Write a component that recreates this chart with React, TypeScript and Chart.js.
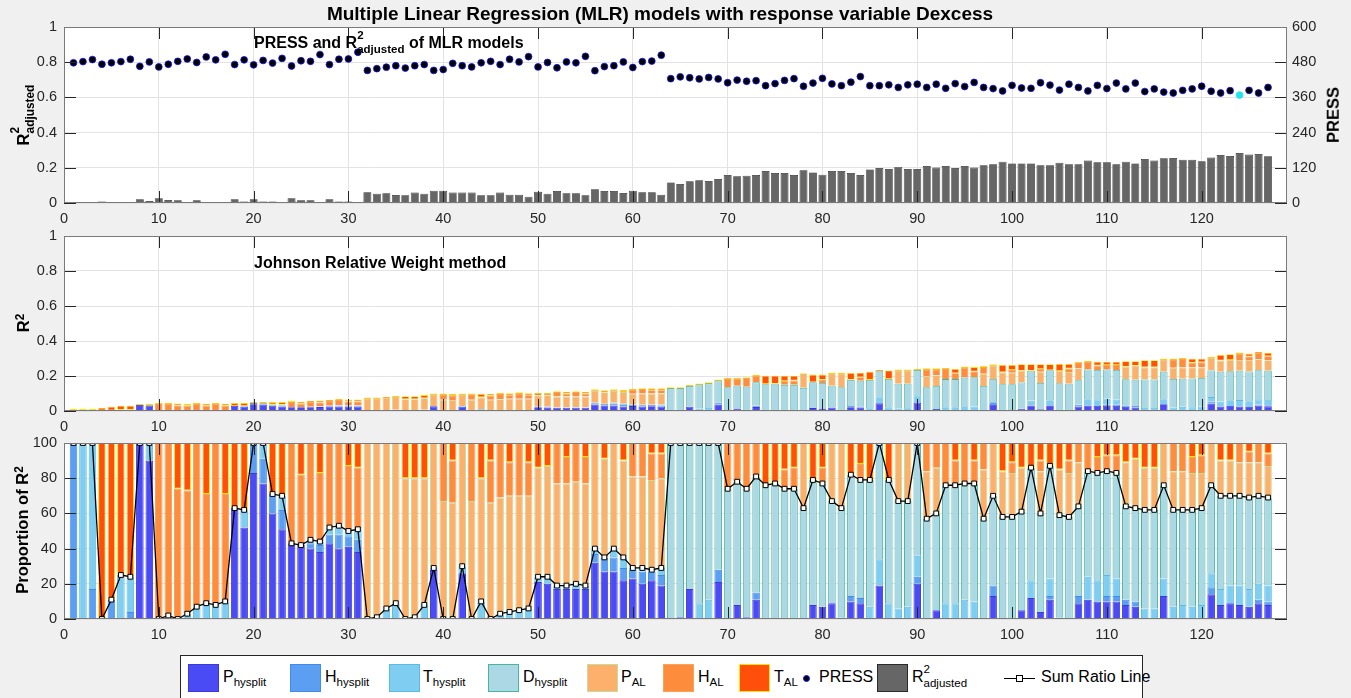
import React, { useEffect, useRef } from "react";
import { Chart, registerables } from "chart.js";
Chart.register(...registerables);

Chart.defaults.font.family = '"Liberation Sans", Arial, Helvetica, sans-serif';
Chart.defaults.color = "#262626";

// ---------------- DATA ----------------
const MODEL_IDS: number[] = Array.from({ length: 127 }, (_, i) => i + 1);
const X_TICKS = [0, 10, 20, 30, 40, 50, 60, 70, 80, 90, 100, 110, 120];
const R2_TICKS = [0, 0.2, 0.4, 0.6, 0.8, 1];
const PRESS_TICKS = [0, 120, 240, 360, 480, 600];
const PROP_TICKS = [0, 20, 40, 60, 80, 100];
const BEST_MODEL = 124;

// adjusted R² of each MLR model (top panel bars)
const R2_ADJ = [
  0, 0, 0, 0.008, 0, 0.004, 0, 0.021, 0.011, 0.027,
  0.017, 0.015, 0, 0.015, 0, 0, 0, 0.021, 0.008, 0.021,
  0.008, 0.009, 0, 0.027, 0.015, 0.015, 0, 0.021, 0.008, 0.009,
  0, 0.061, 0.053, 0.055, 0.045, 0.044, 0.059, 0.053, 0.07, 0.07,
  0.059, 0.059, 0.059, 0.044, 0.044, 0.059, 0.047, 0.047, 0.036, 0.064,
  0.053, 0.068, 0.055, 0.055, 0.044, 0.078, 0.068, 0.068, 0.057, 0.07,
  0.061, 0.061, 0.047, 0.117, 0.108, 0.123, 0.129, 0.125, 0.136, 0.159,
  0.152, 0.155, 0.159, 0.182, 0.17, 0.17, 0.159, 0.186, 0.174, 0.161,
  0.182, 0.182, 0.17, 0.159, 0.191, 0.199, 0.193, 0.205, 0.193, 0.193,
  0.21, 0.201, 0.21, 0.199, 0.21, 0.201, 0.214, 0.22, 0.235, 0.225,
  0.225, 0.225, 0.214, 0.214, 0.229, 0.22, 0.22, 0.241, 0.231, 0.231,
  0.22, 0.235, 0.225, 0.25, 0.241, 0.254, 0.256, 0.246, 0.246, 0.237,
  0.258, 0.273, 0.267, 0.284, 0.275, 0.278, 0.265,
];

// PRESS of each MLR model (top panel dots, right axis)
const PRESS = [
  478, 482, 489, 473, 478, 482, 490, 466, 481, 464,
  473, 483, 491, 479, 498, 488, 507, 472, 488, 471,
  486, 477, 493, 467, 485, 483, 506, 472, 490, 491,
  514, 452, 458, 463, 468, 460, 468, 472, 452, 455,
  476, 468, 464, 478, 483, 472, 490, 481, 499, 464,
  479, 461, 481, 478, 500, 451, 465, 468, 481, 462,
  482, 484, 504, 424, 430, 427, 423, 428, 423, 410,
  419, 415, 417, 400, 407, 418, 424, 398, 409, 425,
  406, 400, 412, 431, 400, 400, 403, 394, 403, 405,
  394, 405, 391, 407, 397, 411, 394, 390, 382, 401,
  392, 391, 410, 402, 385, 405, 394, 382, 401, 390,
  409, 389, 409, 380, 389, 378, 375, 384, 389, 398,
  381, 375, 383, 368, 384, 375, 394,
];

// total R² of each model (middle panel stack height)
const R2_TOTAL = [
  0.001, 0.004, 0.004, 0.019, 0.025, 0.03, 0.03, 0.034, 0.034, 0.04,
  0.042, 0.042, 0.042, 0.042, 0.042, 0.042, 0.042, 0.046, 0.046, 0.046,
  0.046, 0.051, 0.051, 0.051, 0.051, 0.053, 0.059, 0.059, 0.063, 0.063,
  0.063, 0.072, 0.072, 0.076, 0.08, 0.084, 0.084, 0.091, 0.095, 0.095,
  0.095, 0.095, 0.095, 0.097, 0.097, 0.097, 0.101, 0.101, 0.101, 0.103,
  0.103, 0.107, 0.107, 0.107, 0.107, 0.118, 0.118, 0.118, 0.12, 0.122,
  0.124, 0.126, 0.126, 0.13, 0.13, 0.143, 0.152, 0.158, 0.175, 0.183,
  0.185, 0.187, 0.202, 0.202, 0.202, 0.202, 0.202, 0.21, 0.208, 0.208,
  0.215, 0.215, 0.217, 0.219, 0.225, 0.23, 0.232, 0.232, 0.232, 0.234,
  0.238, 0.238, 0.24, 0.24, 0.248, 0.251, 0.251, 0.261, 0.263, 0.263,
  0.267, 0.267, 0.267, 0.267, 0.269, 0.269, 0.274, 0.282, 0.282, 0.282,
  0.282, 0.284, 0.284, 0.29, 0.29, 0.295, 0.295, 0.297, 0.299, 0.299,
  0.305, 0.32, 0.324, 0.328, 0.328, 0.333, 0.333,
];

// proportion (%) of R² per predictor (bottom panel)
const P_HYS = [
  0, 0, 0, 0, 0, 0, 0, 100, 90, 0,
  0, 0, 0, 0, 0, 0, 0, 63, 52, 83,
  77, 60, 51, 43, 42, 40, 38, 43, 40, 41,
  38, 0, 0, 0, 0, 0, 0, 0, 28, 0,
  0, 26, 0, 0, 0, 0, 0, 0, 0, 21,
  20, 17, 17, 17, 17, 32, 27, 27, 22, 23,
  20, 22, 19, 0, 1, 17, 0, 0, 21, 0,
  8, 1, 11, 0, 0, 0, 0, 0, 8, 7,
  9, 0, 10, 9, 0, 19, 0, 0, 0, 20,
  0, 5, 0, 0, 0, 0, 0, 13, 0, 0,
  5, 12, 4, 11, 0, 0, 9, 11, 10, 10,
  10, 8, 7, 0, 0, 13, 0, 0, 0, 0,
  14, 8, 9, 8, 7, 9, 8,
];
const H_HYS = [
  100, 0, 17, 0, 11, 0, 4, 0, 0, 0,
  0, 0, 0, 0, 0, 0, 0, 0, 0, 17,
  14, 11, 11, 0, 0, 3, 4, 5, 8, 6,
  7, 0, 0, 0, 0, 0, 0, 0, 0, 0,
  0, 0, 0, 0, 0, 0, 0, 0, 0, 0,
  0, 0, 0, 0, 0, 5, 8, 8, 7, 5,
  7, 5, 6, 0, 0, 0, 0, 0, 7, 0,
  0, 0, 4, 0, 0, 0, 0, 0, 0, 0,
  0, 0, 3, 3, 0, 0, 0, 0, 0, 4,
  0, 0, 0, 0, 0, 0, 0, 6, 0, 0,
  0, 0, 0, 2, 0, 0, 4, 0, 0, 3,
  3, 3, 3, 0, 0, 0, 0, 0, 0, 0,
  4, 0, 0, 0, 0, 2, 2,
];
const T_HYS = [
  0, 100, 83, 0, 0, 25, 20, 0, 10, 0,
  2, 0, 3, 7, 9, 8, 10, 0, 10, 0,
  9, 0, 8, 0, 0, 2, 2, 4, 5, 3,
  6, 0, 1, 6, 9, 0, 1, 8, 1, 0,
  0, 4, 0, 10, 0, 3, 4, 5, 6, 3,
  4, 2, 2, 3, 2, 3, 0, 5, 6, 1,
  2, 1, 4, 0, 0, 0, 9, 11, 0, 0,
  0, 0, 0, 0, 0, 0, 0, 0, 0, 0,
  0, 1, 0, 0, 7, 15, 9, 6, 7, 12,
  0, 0, 9, 9, 11, 10, 0, 0, 0, 0,
  0, 10, 0, 10, 1, 0, 0, 13, 12, 12,
  10, 0, 0, 6, 6, 10, 7, 8, 7, 8,
  8, 9, 10, 11, 10, 9, 9,
];
const D_HYS = [
  0, 0, 0, 0, 0, 0, 0, 0, 0, 0,
  0, 0, 0, 0, 0, 0, 0, 0, 0, 0,
  0, 0, 0, 0, 0, 0, 0, 0, 0, 0,
  0, 0, 0, 0, 0, 0, 0, 0, 0, 0,
  0, 0, 0, 0, 0, 0, 0, 0, 0, 0,
  0, 0, 0, 0, 0, 0, 0, 0, 0, 0,
  0, 0, 0, 100, 99, 83, 91, 89, 72, 74,
  70, 73, 66, 76, 77, 74, 74, 63, 71, 70,
  58, 62, 69, 67, 72, 66, 70, 61, 60, 64,
  57, 55, 67, 67, 66, 67, 57, 51, 58, 58,
  56, 64, 56, 64, 58, 58, 51, 60, 61, 59,
  60, 53, 53, 56, 56, 53, 55, 54, 55, 55,
  50, 53, 51, 51, 52, 50, 50,
];
const P_AL = [
  0, 0, 0, 0, 0, 0, 0, 0, 0, 0,
  0, 0, 0, 0, 0, 0, 0, 0, 0, 0,
  0, 0, 0, 0, 0, 0, 0, 0, 0, 0,
  0, 100, 99, 94, 91, 80, 79, 72, 71, 67,
  66, 70, 67, 70, 66, 66, 66, 65, 64, 62,
  63, 58, 58, 58, 58, 60, 56, 60, 55, 52,
  52, 51, 51, 0, 0, 0, 0, 0, 0, 0,
  0, 0, 0, 0, 0, 0, 0, 37, 0, 0,
  33, 37, 0, 0, 0, 0, 0, 33, 33, 0,
  27, 26, 0, 0, 0, 0, 28, 30, 26, 25,
  25, 0, 24, 0, 26, 25, 25, 0, 0, 0,
  0, 25, 28, 24, 24, 24, 22, 22, 21, 20,
  24, 20, 20, 19, 20, 19, 18,
];
const H_AL = [
  0, 0, 0, 0, 0, 0, 0, 0, 0, 100,
  98, 74, 70, 93, 62, 92, 61, 0, 0, 0,
  0, 0, 0, 57, 40, 55, 39, 48, 47, 37,
  35, 0, 0, 0, 0, 0, 0, 0, 0, 33,
  24, 0, 33, 0, 24, 31, 19, 30, 19, 0,
  0, 23, 15, 22, 15, 0, 0, 0, 0, 19,
  19, 15, 14, 0, 0, 0, 0, 0, 0, 26,
  22, 26, 19, 0, 0, 11, 12, 0, 0, 9,
  0, 0, 0, 9, 0, 0, 0, 0, 0, 0,
  16, 14, 24, 14, 23, 13, 15, 0, 0, 6,
  0, 0, 6, 0, 0, 7, 11, 16, 9, 9,
  10, 0, 0, 0, 0, 0, 16, 16, 9, 10,
  0, 0, 0, 11, 6, 11, 7,
];
const T_AL = [
  0, 0, 0, 100, 89, 75, 76, 0, 0, 0,
  0, 26, 27, 0, 29, 0, 29, 37, 38, 0,
  0, 29, 30, 0, 18, 0, 17, 0, 0, 13,
  14, 0, 0, 0, 0, 20, 20, 20, 0, 0,
  10, 0, 0, 20, 10, 0, 11, 0, 11, 14,
  13, 0, 8, 0, 8, 0, 9, 0, 10, 0,
  0, 6, 6, 0, 0, 0, 0, 0, 0, 0,
  0, 0, 0, 24, 23, 15, 14, 0, 21, 14,
  0, 0, 18, 12, 21, 0, 21, 0, 0, 0,
  0, 0, 0, 10, 0, 10, 0, 0, 16, 11,
  14, 14, 10, 13, 15, 10, 0, 0, 8, 7,
  7, 11, 9, 14, 14, 0, 0, 0, 8, 7,
  0, 10, 10, 0, 5, 0, 6,
];

const COMPONENTS = [
  { key: "Phys", data: P_HYS, fill: "#4b4bf5", edge: "#3a3ad6" },
  { key: "Hhys", data: H_HYS, fill: "#5b9ef2", edge: "#3f8de6" },
  { key: "Thys", data: T_HYS, fill: "#7fcdf0", edge: "#5bbbe3" },
  { key: "Dhys", data: D_HYS, fill: "#acd8e6", edge: "#45b89c" },
  { key: "PAL", data: P_AL, fill: "#fdb06b", edge: "#c7dc9c" },
  { key: "HAL", data: H_AL, fill: "#fd8c3d", edge: "#f9a25a" },
  { key: "TAL", data: T_AL, fill: "#ff4f0b", edge: "#ffe600" },
];

const GRID = "#e3e3e3";
const AXIS_COLOR = "#262626";
const TICK_FONT = { size: 14.5 };

// ---------------- helpers ----------------
const framePlugin = {
  id: "frameTicks",
  beforeDraw(chart: any) {
    const { ctx, chartArea: a } = chart;
    ctx.save();
    ctx.fillStyle = "#ffffff";
    ctx.fillRect(a.left, a.top, a.right - a.left, a.bottom - a.top);
    ctx.restore();
  },
  afterDraw(chart: any) {
    const { ctx, chartArea: a, scales } = chart;
    const L = 12;
    ctx.save();
    ctx.strokeStyle = AXIS_COLOR;
    ctx.lineWidth = 1;
    const line = (x1: number, y1: number, x2: number, y2: number) => {
      ctx.beginPath();
      ctx.moveTo(x1, y1);
      ctx.lineTo(x2, y2);
      ctx.stroke();
    };
    const xs = scales.x;
    for (const t of xs.ticks) {
      const px = Math.round(xs.getPixelForValue(t.value)) + 0.5;
      line(px, a.bottom, px, a.bottom - L);
      line(px, a.top, px, a.top + L);
    }
    const ys = scales.y;
    for (const t of ys.ticks) {
      const py = Math.round(ys.getPixelForValue(t.value)) + 0.5;
      line(a.left, py, a.left + L, py);
      if (!scales.y1) line(a.right, py, a.right - L, py);
    }
    if (scales.y1) {
      for (const t of scales.y1.ticks) {
        const py = Math.round(scales.y1.getPixelForValue(t.value)) + 0.5;
        line(a.right, py, a.right - L, py);
      }
    }
    ctx.strokeStyle = "#7a7a7a";
    ctx.strokeRect(a.left + 0.5, a.top + 0.5, a.right - a.left - 1, a.bottom - a.top - 1);
    ctx.restore();
  },
};

const xScale = (h: number) => ({
  type: "linear",
  min: 0,
  max: 129,
  offset: false,
  stacked: true,
  afterBuildTicks: (s: any) => {
    s.ticks = X_TICKS.map((v) => ({ value: v }));
  },
  afterFit: (s: any) => {
    s.height = h;
  },
  grid: { color: GRID, drawTicks: false, offset: false },
  border: { display: false },
  ticks: {
    padding: 7,
    color: AXIS_COLOR,
    font: TICK_FONT,
    maxRotation: 0,
    autoSkip: false,
    callback: (v: any) => String(v),
  },
});

const yScale = (min: number, max: number, ticks: number[], opts: any = {}) => ({
  type: "linear",
  position: "left",
  min,
  max,
  afterBuildTicks: (s: any) => {
    s.ticks = ticks.map((v) => ({ value: v }));
  },
  afterFit: (s: any) => {
    s.width = 64;
  },
  grid: { color: GRID, drawTicks: false },
  border: { display: false },
  ticks: {
    padding: 7,
    color: AXIS_COLOR,
    font: TICK_FONT,
    callback: (v: any) => String(Math.round(v * 10) / 10),
  },
  ...opts,
});

const baseOptions = (padTop: number, padRight: number) => ({
  animation: false,
  responsive: false,
  maintainAspectRatio: false,
  devicePixelRatio: 1,
  events: [],
  layout: { padding: { top: padTop, left: 0, right: padRight, bottom: 0 } },
  plugins: { legend: { display: false }, tooltip: { enabled: false }, title: { display: false } },
});

const xy = (arr: number[]) => arr.map((v, i) => ({ x: MODEL_IDS[i], y: v }));

const stackedBarSets = (valueOf: (c: any, i: number) => number, bw: number) =>
  COMPONENTS.map((c) => {
    const isTop = c.key === "TAL";
    return {
      type: "bar",
      label: c.key,
      data: c.data.map((_: number, i: number) => ({ x: MODEL_IDS[i], y: valueOf(c, i) })),
      backgroundColor: c.fill,
      borderColor: c.edge,
      borderWidth: bw,
      borderSkipped: isTop ? false : "start",
      minBarLength: isTop ? 2 : 0,
      barPercentage: 0.8,
      categoryPercentage: 1,
      yAxisID: "y",
      order: 1,
    };
  });

// ---------------- text helpers ----------------
const SupSub = ({ sup, sub }: { sup: string; sub: string }) => (
  <span style={{ position: "relative", display: "inline-block" }}>
    <span style={{ position: "absolute", left: 0, top: "-0.42em", fontSize: "0.72em" }}>{sup}</span>
    <span style={{ fontSize: "0.72em", position: "relative", top: "0.42em" }}>{sub}</span>
  </span>
);
const Sub = ({ t }: { t: string }) => (
  <span style={{ fontSize: "0.72em", position: "relative", top: "0.38em" }}>{t}</span>
);
const Sup = ({ t }: { t: string }) => (
  <span style={{ fontSize: "0.72em", position: "relative", top: "-0.45em" }}>{t}</span>
);

const FONT = '"Liberation Sans", Arial, Helvetica, sans-serif';

export default function App() {
  const c1 = useRef<HTMLCanvasElement>(null);
  const c2 = useRef<HTMLCanvasElement>(null);
  const c3 = useRef<HTMLCanvasElement>(null);

  useEffect(() => {
    // --- top panel ---
    const pressColors = MODEL_IDS.map((m) => (m === BEST_MODEL ? "#22e4ee" : "#000000"));
    const pressEdges = MODEL_IDS.map((m) => (m === BEST_MODEL ? "#22e4ee" : "#1414ff"));
    const ch1 = new Chart(c1.current as HTMLCanvasElement, {
      type: "bar",
      data: {
        datasets: [
          {
            type: "scatter",
            label: "PRESS",
            data: xy(PRESS),
            yAxisID: "y1",
            pointRadius: 3.4,
            pointBackgroundColor: pressColors,
            pointBorderColor: pressEdges,
            pointBorderWidth: 0.8,
            order: 0,
          } as any,
          {
            type: "bar",
            label: "R2adj",
            data: xy(R2_ADJ),
            yAxisID: "y",
            backgroundColor: "#666666",
            borderColor: "#2a2a2a",
            borderWidth: 0.7,
            barPercentage: 0.84,
            categoryPercentage: 1,
            order: 1,
          } as any,
        ],
      },
      options: {
        ...baseOptions(27, 0),
        scales: {
          x: xScale(27),
          y: yScale(0, 1, R2_TICKS),
          y1: yScale(0, 600, PRESS_TICKS, {
            position: "right",
            grid: { display: false, drawTicks: false },
            ticks: { padding: 5, color: AXIS_COLOR, font: TICK_FONT, callback: (v: any) => String(v) },
          }),
        },
      } as any,
      plugins: [framePlugin as any],
    });

    // --- middle panel ---
    const ch2 = new Chart(c2.current as HTMLCanvasElement, {
      type: "bar",
      data: {
        datasets: stackedBarSets((c, i) => (R2_TOTAL[i] * c.data[i]) / 100, 0.8) as any,
      },
      options: {
        ...baseOptions(16, 64),
        scales: {
          x: xScale(24),
          y: { ...yScale(0, 1, R2_TICKS), stacked: true },
        },
      } as any,
      plugins: [framePlugin as any],
    });

    // --- bottom panel ---
    const sumRatio = MODEL_IDS.map((m, i) => ({ x: m, y: P_HYS[i] + H_HYS[i] + T_HYS[i] + D_HYS[i] }));
    const ch3 = new Chart(c3.current as HTMLCanvasElement, {
      type: "bar",
      data: {
        datasets: [
          ...stackedBarSets((c, i) => c.data[i], 1),
          {
            type: "line",
            label: "Sum Ratio Line",
            data: sumRatio,
            yAxisID: "yl",
            borderColor: "#000000",
            borderWidth: 1.3,
            pointStyle: "rect",
            pointRadius: 3.4,
            pointBackgroundColor: "#ffffff",
            pointBorderColor: "#000000",
            pointBorderWidth: 1,
            tension: 0,
            order: 0,
          },
        ] as any,
      },
      options: {
        ...baseOptions(18, 64),
        scales: {
          x: xScale(31),
          y: {
            ...yScale(0, 100, PROP_TICKS),
            stacked: true,
            ticks: { padding: 7, color: AXIS_COLOR, font: TICK_FONT, callback: (v: any) => String(v) },
          },
          yl: { type: "linear", display: false, min: 0, max: 100, stacked: false },
        },
      } as any,
      plugins: [framePlugin as any],
    });

    return () => {
      ch1.destroy();
      ch2.destroy();
      ch3.destroy();
    };
  }, []);

  const abs = (o: any) => ({ position: "absolute" as const, ...o });
  const axisTitle = (x: number, y: number) =>
    abs({
      left: x,
      top: y,
      transform: "translate(-50%, -50%) rotate(-90deg)",
      whiteSpace: "nowrap",
      fontWeight: "bold",
      fontSize: 16.5,
      lineHeight: 1,
      color: "#000",
    });
  const sw = (left: number, fill: string, edge: string) =>
    abs({ left, top: 8, width: 31, height: 28, background: fill, border: `1px solid ${edge}`, boxSizing: "border-box" });
  const lt = (left: number) => abs({ left, top: 13, whiteSpace: "nowrap", lineHeight: 1 });

  return (
    <div
      style={{
        position: "fixed",
        left: 0,
        top: 0,
        width: 1351,
        height: 698,
        overflow: "hidden",
        background: "#f0f0f0",
        fontFamily: FONT,
        color: "#000",
      }}
    >
      <canvas ref={c1} width={1351} height={230} style={abs({ left: 0, top: 0 })} />
      <canvas ref={c2} width={1351} height={215} style={abs({ left: 0, top: 220 })} />
      <canvas ref={c3} width={1351} height={225} style={abs({ left: 0, top: 425 })} />

      {/* title */}
      <div style={abs({ left: 0, width: 1320, top: 4, textAlign: "center", fontWeight: "bold", fontSize: 19, lineHeight: 1 })}>
        Multiple Linear Regression (MLR) models with response variable Dexcess
      </div>

      {/* annotations */}
      <div style={abs({ left: 254, top: 35, fontWeight: "bold", fontSize: 16, lineHeight: 1, whiteSpace: "nowrap" })}>
        PRESS and R<SupSub sup="2" sub="adjusted" /> of MLR models
      </div>
      <div style={abs({ left: 254, top: 255, fontWeight: "bold", fontSize: 16, lineHeight: 1, whiteSpace: "nowrap" })}>
        Johnson Relative Weight method
      </div>

      {/* axis titles */}
      <div style={axisTitle(23, 115)}>
        R<SupSub sup="2" sub="adjusted" />
      </div>
      <div style={axisTitle(1333, 115)}>PRESS</div>
      <div style={axisTitle(23, 323)}>
        R<Sup t="2" />
      </div>
      <div style={axisTitle(22, 530)}>
        Proportion of R<Sup t="2" />
      </div>

      {/* legend */}
      <div
        style={abs({
          left: 180,
          top: 655,
          width: 963,
          height: 60,
          background: "#fff",
          border: "1px solid #262626",
          boxSizing: "border-box",
          fontSize: 16,
        })}
      >
        <div style={sw(7, COMPONENTS[0].fill, COMPONENTS[0].edge)} />
        <div style={lt(42)}>P<Sub t="hysplit" /></div>
        <div style={sw(109, COMPONENTS[1].fill, COMPONENTS[1].edge)} />
        <div style={lt(144)}>H<Sub t="hysplit" /></div>
        <div style={sw(208, COMPONENTS[2].fill, COMPONENTS[2].edge)} />
        <div style={lt(242)}>T<Sub t="hysplit" /></div>
        <div style={sw(307, COMPONENTS[3].fill, COMPONENTS[3].edge)} />
        <div style={lt(342)}>D<Sub t="hysplit" /></div>
        <div style={sw(406, COMPONENTS[4].fill, COMPONENTS[4].edge)} />
        <div style={lt(440)}>P<Sub t="AL" /></div>
        <div style={sw(482, COMPONENTS[5].fill, COMPONENTS[5].edge)} />
        <div style={lt(517)}>H<Sub t="AL" /></div>
        <div style={sw(558, COMPONENTS[6].fill, COMPONENTS[6].edge)} />
        <div style={lt(593)}>T<Sub t="AL" /></div>
        <div style={abs({ left: 622, top: 19, width: 7, height: 7, borderRadius: "50%", background: "#000", border: "1px solid #1414ff", boxSizing: "border-box" })} />
        <div style={lt(638)}>PRESS</div>
        <div style={sw(696, "#666666", "#2a2a2a")} />
        <div style={lt(731)}>R<SupSub sup="2" sub="adjusted" /></div>
        <div style={abs({ left: 823, top: 22, width: 31, height: 1.3, background: "#000" })} />
        <div style={abs({ left: 835, top: 19, width: 7, height: 7, background: "#fff", border: "1px solid #000", boxSizing: "border-box" })} />
        <div style={lt(860)}>Sum Ratio Line</div>
      </div>
    </div>
  );
}
